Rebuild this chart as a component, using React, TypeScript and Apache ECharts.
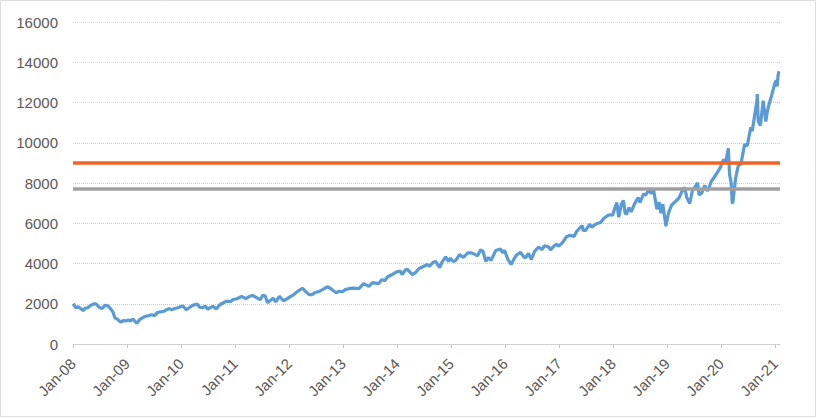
import React, { useEffect, useRef } from "react";
import * as echarts from "echarts";

// Index level by date
const dates: string[] = [
  "2008-01-02","2008-01-22","2008-02-01","2008-02-15","2008-03-10","2008-03-25","2008-04-10","2008-04-30","2008-05-20","2008-06-05","2008-06-25","2008-07-15","2008-08-05","2008-08-25","2008-09-15","2008-09-30","2008-10-10","2008-10-25","2008-11-20","2008-12-05","2008-12-25",
  "2009-01-10","2009-01-25","2009-02-10","2009-03-09","2009-03-25","2009-04-15","2009-05-05","2009-05-25","2009-06-15","2009-07-08","2009-07-25","2009-08-15","2009-09-05","2009-09-25","2009-10-15","2009-10-30","2009-11-20","2009-12-10","2009-12-30",
  "2010-01-15","2010-02-05","2010-02-25","2010-03-20","2010-04-20","2010-05-07","2010-05-25","2010-06-15","2010-07-01","2010-07-20","2010-08-05","2010-08-27","2010-09-20","2010-10-15","2010-11-05","2010-11-30","2010-12-20",
  "2011-01-15","2011-02-15","2011-03-15","2011-04-05","2011-04-29","2011-05-20","2011-06-20","2011-07-08","2011-07-25","2011-08-08","2011-08-25","2011-09-15","2011-10-03","2011-10-28","2011-11-25","2011-12-15",
  "2012-01-10","2012-01-31","2012-02-20","2012-03-15","2012-04-02","2012-04-20","2012-05-18","2012-06-05","2012-06-25","2012-07-20","2012-08-15","2012-09-18","2012-10-10","2012-11-15","2012-12-05","2012-12-28",
  "2013-01-15","2013-02-15","2013-03-15","2013-04-18","2013-05-20","2013-06-24","2013-07-20","2013-08-30","2013-09-20","2013-10-09","2013-10-30","2013-11-25","2013-12-31",
  "2014-01-22","2014-02-04","2014-02-28","2014-03-10","2014-04-14","2014-05-05","2014-05-30","2014-06-25","2014-07-25","2014-08-07","2014-09-02","2014-09-18","2014-10-16","2014-10-31","2014-11-25","2014-12-16","2014-12-26",
  "2015-01-15","2015-02-02","2015-02-27","2015-03-25","2015-04-24","2015-05-20","2015-06-10","2015-06-29","2015-07-20","2015-08-05","2015-08-24","2015-09-10","2015-09-28","2015-10-30","2015-12-01","2015-12-15","2015-12-29",
  "2016-01-20","2016-02-11","2016-02-29","2016-03-20","2016-04-15","2016-05-10","2016-05-20","2016-06-08","2016-06-27","2016-07-20","2016-08-15","2016-09-09","2016-09-22","2016-10-20","2016-11-04","2016-11-25","2016-12-13","2016-12-30",
  "2017-01-25","2017-02-20","2017-03-15","2017-04-13","2017-04-28","2017-05-25","2017-06-08","2017-06-12","2017-06-30","2017-07-26","2017-08-10","2017-08-25","2017-09-15","2017-10-10","2017-10-31","2017-11-28","2017-12-15","2017-12-29",
  "2018-01-12","2018-01-26","2018-02-08","2018-02-26","2018-03-12","2018-03-23","2018-04-02","2018-04-18","2018-05-03","2018-05-25","2018-06-20","2018-07-02","2018-07-25","2018-08-10","2018-08-29","2018-09-14","2018-10-01","2018-10-24","2018-11-08","2018-11-20","2018-12-03","2018-12-24",
  "2019-01-10","2019-01-31","2019-02-26","2019-03-22","2019-04-12","2019-04-30","2019-05-13","2019-06-03","2019-06-20","2019-07-26","2019-08-05","2019-08-23","2019-09-12","2019-10-02","2019-10-28","2019-11-26","2019-12-27",
  "2020-01-17","2020-01-31","2020-02-19","2020-02-27","2020-03-09","2020-03-16","2020-03-20","2020-04-08","2020-04-29","2020-05-13","2020-06-08","2020-06-26","2020-07-20","2020-07-30","2020-08-31","2020-09-02","2020-09-08","2020-09-23","2020-10-12","2020-10-30","2020-11-09","2020-11-20","2020-12-10","2020-12-28",
  "2021-01-08","2021-01-15","2021-01-20","2021-01-26",
];

const values: number[] = [
  2000,1780,1850,1800,1660,1780,1800,1920,1990,2000,1830,1760,1920,1900,1720,1560,1300,1250,1080,1160,1150,
  1200,1140,1240,1020,1200,1300,1380,1400,1450,1420,1560,1600,1620,1700,1760,1700,1760,1800,1860,
  1880,1700,1800,1920,1990,1830,1800,1880,1730,1820,1870,1740,1950,2050,2130,2100,2210,
  2250,2370,2250,2350,2420,2330,2200,2420,2380,2050,2150,2270,2100,2370,2150,2230,
  2350,2440,2570,2700,2760,2620,2450,2450,2560,2600,2700,2850,2750,2550,2620,2600,
  2700,2760,2780,2750,3000,2860,3050,3000,3200,3140,3340,3440,3590,
  3620,3450,3690,3720,3450,3550,3750,3840,3950,3850,4060,4100,3800,4060,4330,4100,4270,
  4100,4150,4440,4300,4530,4530,4450,4380,4680,4600,4100,4300,4150,4650,4720,4540,4650,
  4200,3950,4200,4430,4550,4300,4300,4500,4200,4620,4810,4690,4880,4830,4680,4850,4960,4860,
  5050,5330,5400,5350,5580,5800,5880,5650,5650,5950,5800,5900,5990,6050,6250,6400,6420,6400,
  6740,7030,6300,6950,7130,6500,6450,6780,6570,6950,7280,7030,7450,7400,7660,7480,7660,6700,7050,6500,6950,5850,
  6500,6900,7080,7250,7600,7780,7300,6980,7600,8000,7400,7500,7880,7600,8100,8400,8780,
  9170,8990,9720,8440,8000,7020,7000,8230,8950,8900,9920,9850,10770,10580,12110,12420,11090,10850,12090,11050,11550,11890,12400,12900,
  13100,12800,13300,13550,
];

const orangeLevel = 9000;
const grayLevel = 7700;
const yTicks = { min: 0, max: 16000, interval: 2000 };
const xStartYear = 2008;
const xEndYear = 2021.09;

function toYear(d: string): number {
  const [y, m, day] = d.split("-").map(Number);
  const start = Date.UTC(y, 0, 1);
  const end = Date.UTC(y + 1, 0, 1);
  return y + (Date.UTC(y, m - 1, day) - start) / (end - start);
}

export default function App() {
  const ref = useRef<HTMLDivElement>(null);
  useEffect(() => {
    document.body.style.margin = "0";
    if (!ref.current) return;
    const chart = echarts.init(ref.current, undefined, { renderer: "svg" });
    const seriesData = dates.map((d, i) => [toYear(d), values[i]]);
    const font = "'Liberation Sans', Arial, sans-serif";
    chart.setOption({
      animation: false,
      backgroundColor: "#ffffff",
      grid: { left: 73, right: 37, top: 22, bottom: 74 },
      xAxis: {
        type: "value",
        min: xStartYear,
        max: xEndYear,
        interval: 1,
        splitLine: { show: false },
        axisLine: { show: true, lineStyle: { color: "#c6c6c6", type: [1, 1], width: 1 } },
        axisTick: { show: true, length: 4, lineStyle: { color: "#c6c6c6" } },
        axisLabel: {
          rotate: 45,
          color: "#595959",
          fontSize: 15,
          fontFamily: font,
          margin: 17,
          showMaxLabel: false,
          formatter: (v: number) => {
            if (Math.abs(v - Math.round(v)) > 1e-6) return "";
            return "Jan-" + String(Math.round(v)).slice(2);
          },
        },
      },
      yAxis: {
        type: "value",
        min: yTicks.min,
        max: yTicks.max,
        interval: yTicks.interval,
        axisLine: { show: false },
        axisTick: { show: false },
        splitLine: { show: true, lineStyle: { color: "#cfcfcf", type: [1, 1], width: 1 } },
        axisLabel: {
          color: "#595959",
          fontSize: 15,
          fontFamily: font,
          margin: 15,
          formatter: (v: number) => String(v),
        },
      },
      series: [
        {
          type: "line",
          data: seriesData,
          showSymbol: false,
          symbol: "none",
          lineStyle: { color: "#5B9BD5", width: 3.2 },
          z: 2,
        },
        {
          type: "line",
          data: [],
          z: 3,
          markLine: {
            silent: true,
            symbol: "none",
            label: { show: false },
            lineStyle: { color: "#F36424", width: 3.5, type: "solid" },
            data: [{ yAxis: orangeLevel }],
          },
        },
        {
          type: "line",
          data: [],
          z: 3,
          markLine: {
            silent: true,
            symbol: "none",
            label: { show: false },
            lineStyle: { color: "#A0A0A0", width: 3.5, type: "solid" },
            data: [{ yAxis: grayLevel }],
          },
        },
      ],
      graphic: [
        {
          type: "rect",
          shape: { x: 0.5, y: 0.5, width: 815, height: 416 },
          style: { fill: "none", stroke: "#bdbdbd", lineWidth: 1, lineDash: [1, 1] },
          silent: true,
        },
      ],
    });
    return () => chart.dispose();
  }, []);
  return <div ref={ref} style={{ width: 817, height: 418 }} />;
}
